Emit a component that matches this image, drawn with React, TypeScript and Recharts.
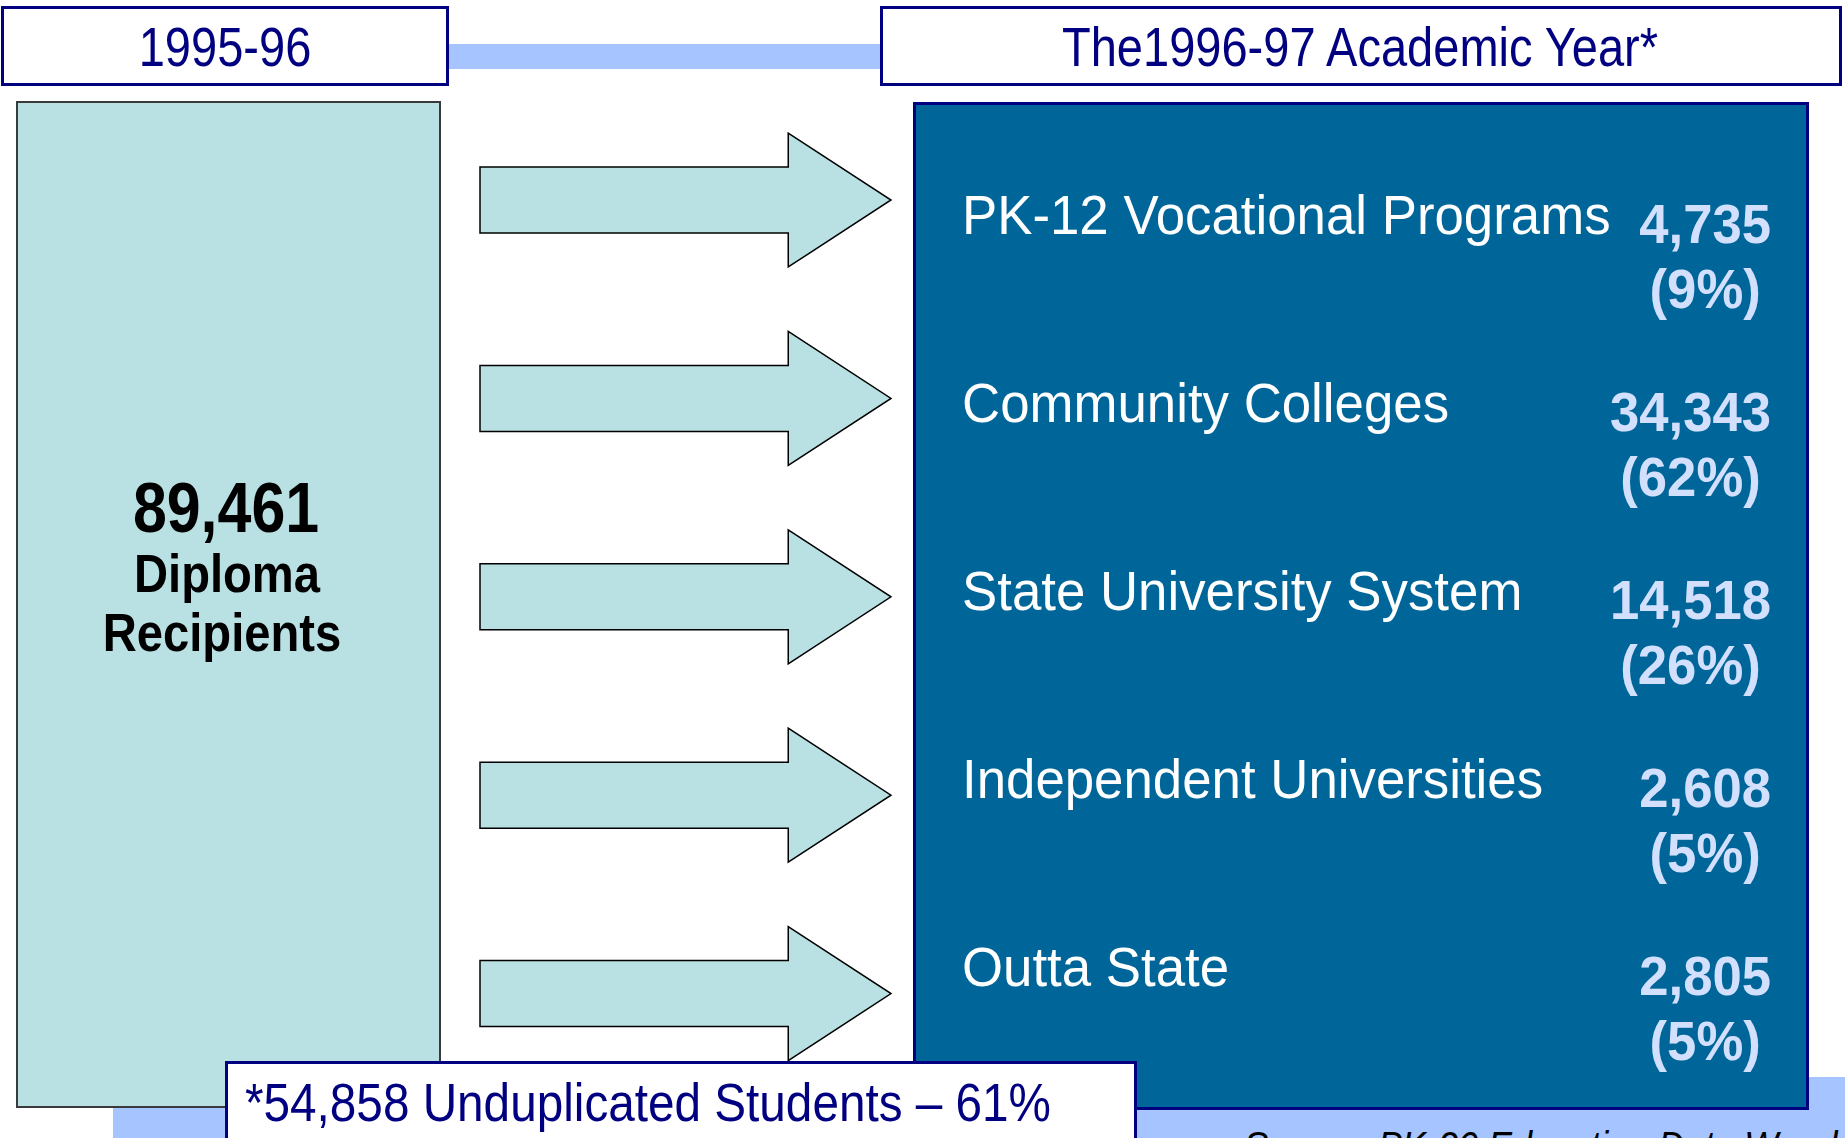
import React from "react";
import { BarChart, Bar, XAxis, YAxis, LabelList } from "recharts";

// destinations of the 1995-96 diploma recipients, one arrow each
const DESTINATIONS = [
  "PK-12 Vocational Programs",
  "Community Colleges",
  "State University System",
  "Independent Universities",
  "Outta State",
];
const STUDENTS = [4735, 34343, 14518, 2608, 2805];
const PERCENTS = [9, 62, 26, 5, 5];
// every arrow reaches all the way across to the 1996-97 box
const REACH = [1, 1, 1, 1, 1];

const TOTAL_DIPLOMAS = 89461;
const UNDUPLICATED = 54858;
const UNDUPLICATED_PCT = 61;
const FROM_LABEL = "1995-96";
const TO_LABEL = "The1996-97 Academic Year*";
const SOURCE = "Source: PK-20 Education Data Warehouse";

const FONT = '"Liberation Sans", Arial, Helvetica, sans-serif';
const NAVY = "#000080";
const TEAL = "#b9e0e3";
const BLUE = "#006699";
const PALE = "#a6c4ff";
const VALUE = "#d2e0fd";

const rows = DESTINATIONS.map((name, i) => ({
  name,
  students: STUDENTS[i],
  pct: PERCENTS[i],
  reach: REACH[i],
}));

const fmt = (n: number) => n.toLocaleString("en-US");

function Arrow(props: any) {
  const { x, y, width, height } = props;
  if (width == null || height == null) return null;
  const cy = y + height / 2;
  const neck = x + width * 0.75;
  const half = height * 1.015;
  const d = `M${x},${y} L${neck},${y} L${neck},${cy - half} L${x + width},${cy} L${neck},${cy + half} L${neck},${y + height} L${x},${y + height} Z`;
  return <path d={d} fill={TEAL} stroke="#000" strokeWidth={1.5} />;
}

const Nothing = () => null;

function box(p: any) {
  const vb = p.viewBox && p.viewBox.width != null ? p.viewBox : p;
  return { x: vb.x, y: vb.y, w: vb.width, h: vb.height };
}

// label rows sit in the blue box: bar spans its inner width
function NameLabel(p: any) {
  const b = box(p);
  const cy = b.y + b.h / 2;
  return (
    <text
      transform={`translate(${b.x},${cy}) scale(0.96,1)`}
      fill="#fff"
      fontSize={55}
      fontFamily={FONT}
      dominantBaseline="central"
    >
      {p.value}
    </text>
  );
}

function ValueLabel(p: any) {
  const b = box(p);
  const row = rows.find((r) => r.students === p.value);
  if (!row) return null;
  const txt = fmt(row.students);
  const commas = (txt.match(/,/g) || []).length;
  const w = ((txt.length - commas) * 0.556 + commas * 0.278) * 56 * 0.94;
  const cx = b.x + b.w - w / 2;
  const cy = b.y + b.h / 2 + 9;
  const common = {
    fill: VALUE,
    fontSize: 56,
    fontWeight: 700,
    fontFamily: FONT,
    textAnchor: "middle" as const,
    dominantBaseline: "central" as const,
  };
  return (
    <g>
      <text transform={`translate(${cx},${cy}) scale(0.94,1)`} {...common}>
        {txt}
      </text>
      <text transform={`translate(${cx},${cy + 65}) scale(0.94,1)`} {...common}>
        ({row.pct}%)
      </text>
    </g>
  );
}

function Txt({ x, y, sx = 1, size, weight = 400, fill, anchor = "middle", italic, children }: any) {
  return (
    <text
      transform={`translate(${x},${y}) scale(${sx},1)`}
      fontSize={size}
      fontWeight={weight}
      fill={fill}
      fontFamily={FONT}
      fontStyle={italic ? "italic" : "normal"}
      textAnchor={anchor}
      dominantBaseline="central"
    >
      {children}
    </text>
  );
}

export default function App() {
  return (
    <div style={{ position: "relative", width: 1845, height: 1138, overflow: "hidden", background: "#fff" }}>
      <style>{`body{margin:0}`}</style>

      <svg width={1845} height={1138} style={{ position: "absolute", left: 0, top: 0 }}>
        <rect x={113} y={1077} width={1732} height={61} fill={PALE} />
        <rect x={448} y={44} width={432} height={25} fill={PALE} />
        <rect x={2.5} y={7.5} width={445} height={77} fill="#fff" stroke={NAVY} strokeWidth={3} />
        <rect x={881.5} y={7.5} width={959} height={77} fill="#fff" stroke={NAVY} strokeWidth={3} />
        <Txt x={225} y={47} sx={0.84} size={56} fill={NAVY}>{FROM_LABEL}</Txt>
        <Txt x={1360} y={47} sx={0.84} size={56} fill={NAVY}>{TO_LABEL}</Txt>

        <rect x={17} y={102} width={423} height={1005} fill={TEAL} stroke="#3a3a3a" strokeWidth={2} />
        <Txt x={226} y={508} sx={0.87} size={70} weight={700} fill="#000">{fmt(TOTAL_DIPLOMAS)}</Txt>
        <Txt x={227} y={574} sx={0.89} size={53} weight={700} fill="#000">Diploma</Txt>
        <Txt x={222} y={633} sx={0.89} size={53} weight={700} fill="#000">Recipients</Txt>

        <rect x={914.5} y={103.5} width={893} height={1005} fill={BLUE} stroke={NAVY} strokeWidth={3} />
      </svg>

      {/* arrows */}
      <div style={{ position: "absolute", left: 0, top: 0 }}>
        <BarChart
          layout="vertical"
          width={1845}
          height={1138}
          data={rows}
          margin={{ top: 101, right: 954, bottom: 45, left: 480 }}
          barCategoryGap={0}
          barSize={66}
        >
          <XAxis type="number" domain={[0, 1]} hide />
          <YAxis type="category" dataKey="name" hide />
          <Bar dataKey="reach" shape={<Arrow />} isAnimationActive={false} />
        </BarChart>
      </div>

      {/* destination names and counts */}
      <div style={{ position: "absolute", left: 0, top: 0 }}>
        <BarChart
          layout="vertical"
          width={1845}
          height={1138}
          data={rows}
          margin={{ top: 121, right: 74, bottom: 77, left: 962 }}
          barCategoryGap={0}
          barSize={60}
        >
          <XAxis type="number" domain={[0, 1]} hide />
          <YAxis type="category" dataKey="name" hide />
          <Bar dataKey="reach" shape={<Nothing />} isAnimationActive={false}>
            <LabelList dataKey="name" content={NameLabel} />
            <LabelList dataKey="students" content={ValueLabel} />
          </Bar>
        </BarChart>
      </div>

      <svg width={1845} height={1138} style={{ position: "absolute", left: 0, top: 0 }}>
        <rect x={226.5} y={1062.5} width={909} height={100} fill="#fff" stroke={NAVY} strokeWidth={3} />
        <Txt x={245} y={1103} sx={0.9} size={53} fill={NAVY} anchor="start">
          {`*${fmt(UNDUPLICATED)} Unduplicated Students \u2013 ${UNDUPLICATED_PCT}%`}
        </Txt>
        <Txt x={1244} y={1146} sx={0.9} size={40} fill="#000" anchor="start" italic>
          {SOURCE}
        </Txt>
      </svg>
    </div>
  );
}
